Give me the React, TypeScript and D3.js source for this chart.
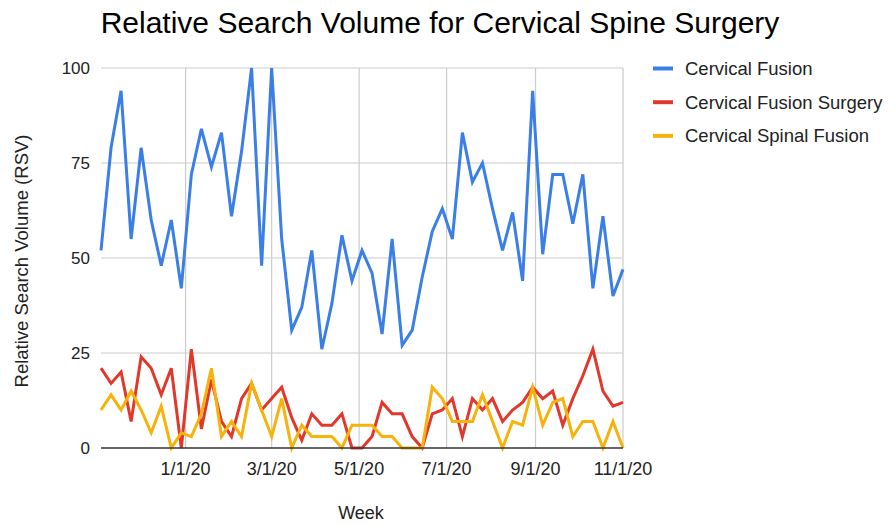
import * as d3 from "d3";

const WIDTH = 893;
const HEIGHT = 525;
const MARGIN = { top: 68, right: 270, bottom: 77, left: 101 };
const FONT = "'Liberation Sans', Arial, sans-serif";

// weekly google trends data, week starting Nov 3 2019 .. Nov 1 2020
const START = new Date(2019, 10, 3);
const END = new Date(2020, 10, 2);
const weeks = d3.timeWeek.range(START, END);

const SERIES_NAMES = ["Cervical Fusion", "Cervical Fusion Surgery", "Cervical Spinal Fusion"];
const COLORS = ["#3a7ee8", "#e2382b", "#f8b20c"];

const cervicalFusion = [
  52, 79, 94, 55, 79, 60, 48, 60, 42, 72, 84, 74, 83, 61, 78, 100, 48, 100, 55, 31,
  37, 52, 26, 38, 56, 44, 52, 46, 30, 55, 27, 31, 45, 57, 63, 55, 83, 70, 75, 63,
  52, 62, 44, 94, 51, 72, 72, 59, 72, 42, 61, 40, 47,
];
const cervicalFusionSurgery = [
  21, 17, 20, 7, 24, 21, 14, 21, 0, 26, 5, 18, 7, 3, 13, 17, 10, 13, 16, 8,
  2, 9, 6, 6, 9, 0, 0, 3, 12, 9, 9, 3, 0, 9, 10, 13, 3, 13, 10, 13,
  7, 10, 12, 16, 13, 15, 6, 13, 19, 26, 15, 11, 12,
];
const cervicalSpinalFusion = [
  10, 14, 10, 15, 10, 4, 11, 0, 4, 3, 9, 21, 3, 7, 3, 17, 10, 3, 13, 0,
  6, 3, 3, 3, 0, 6, 6, 6, 3, 3, 0, 0, 0, 16, 13, 7, 7, 7, 14, 7,
  0, 7, 6, 16, 6, 12, 13, 3, 7, 7, 0, 7, 0,
];
const SERIES = [cervicalFusion, cervicalFusionSurgery, cervicalSpinalFusion];

const X_TICKS = ["2020-01-01", "2020-03-01", "2020-05-01", "2020-07-01", "2020-09-01", "2020-11-01"];
const Y_TICKS = [0, 25, 50, 75, 100];

export default function App() {
  const innerW = WIDTH - MARGIN.left - MARGIN.right;
  const innerH = HEIGHT - MARGIN.top - MARGIN.bottom;

  const x = d3
    .scaleTime()
    .domain([weeks[0], weeks[weeks.length - 1]])
    .range([MARGIN.left, MARGIN.left + innerW]);
  const y = d3.scaleLinear().domain([0, 100]).range([MARGIN.top + innerH, MARGIN.top]);

  const xTicks = X_TICKS.map((s) => {
    const [yy, mm, dd] = s.split("-").map(Number);
    return new Date(yy, mm - 1, dd);
  });
  const fmt = d3.timeFormat("%-m/%-d/%y");

  const line = d3
    .line<number>()
    .x((_, i) => x(weeks[i]))
    .y((d) => y(d));

  const x0 = MARGIN.left;
  const x1 = MARGIN.left + innerW;

  return (
    <svg
      width={WIDTH}
      height={HEIGHT}
      style={{ position: "absolute", left: 0, top: 0, background: "#fff" }}
      fontFamily={FONT}
    >
      <text x={440} y={33} textAnchor="middle" fontSize={30} fill="#000">
        Relative Search Volume for Cervical Spine Surgery
      </text>

      {/* grid */}
      {Y_TICKS.filter((t) => t > 0).map((t) => (
        <line key={t} x1={x0} x2={x1} y1={y(t)} y2={y(t)} stroke="#cccccc" strokeWidth={1.2} />
      ))}
      {xTicks.map((d, i) => (
        <line key={i} x1={x(d)} x2={x(d)} y1={y(100)} y2={y(0)} stroke="#cccccc" strokeWidth={1.2} />
      ))}

      {/* series */}
      {SERIES.map((s, i) => (
        <path
          key={i}
          d={line(s) || ""}
          fill="none"
          stroke={COLORS[i]}
          strokeWidth={3}
          strokeLinejoin="miter"
        />
      ))}

      <line x1={x0} x2={x1} y1={y(0)} y2={y(0)} stroke="#333" strokeWidth={1.5} />

      {/* axes labels */}
      {Y_TICKS.map((t) => (
        <text key={t} x={90} y={y(t)} dy="0.35em" textAnchor="end" fontSize={17} fill="#222">
          {t}
        </text>
      ))}
      {xTicks.map((d, i) => (
        <text key={i} x={x(d)} y={475} textAnchor="middle" fontSize={18} fill="#222">
          {fmt(d)}
        </text>
      ))}

      <text x={361} y={519} textAnchor="middle" fontSize={18} fill="#222">
        Week
      </text>
      <text
        transform={`translate(28, ${y(50) + 3}) rotate(-90)`}
        textAnchor="middle"
        fontSize={18.5}
        fill="#222"
      >
        Relative Search Volume (RSV)
      </text>

      {/* legend */}
      {SERIES_NAMES.map((name, i) => (
        <g key={name} transform={`translate(653, ${68.5 + i * 33.7})`}>
          <line x1={0} x2={20} y1={0} y2={0} stroke={COLORS[i]} strokeWidth={4} />
          <text x={32} y={0} dy="0.35em" fontSize={18.5} fill="#222">
            {name}
          </text>
        </g>
      ))}
    </svg>
  );
}
